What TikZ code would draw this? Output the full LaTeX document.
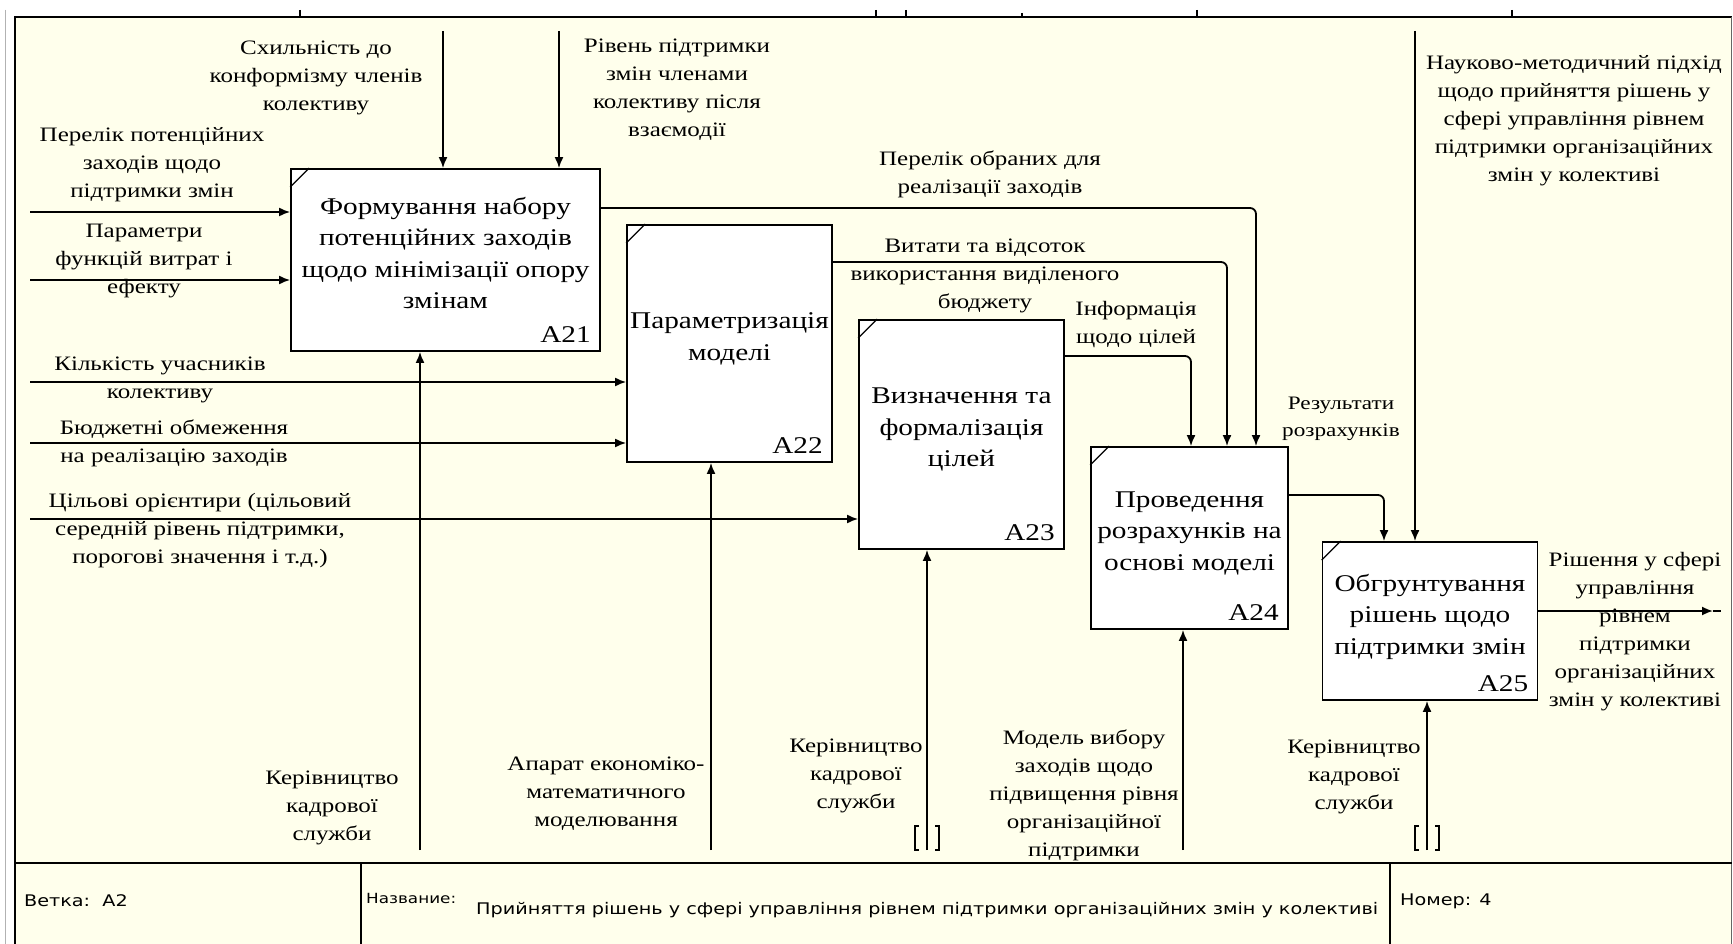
\documentclass[tikz,border=0pt]{standalone}
\usepackage{fontspec}
\setmainfont{Liberation Serif}
\newfontfamily\idefserif[FakeStretch=1.22]{Liberation Serif}
\newfontfamily\idefsans[FakeStretch=1.2]{DejaVu Sans}
\usetikzlibrary{arrows.meta,positioning}
\definecolor{paper}{RGB}{255,255,236}
\newcommand{\boxpad}{\rule[-14pt]{0pt}{14pt}}
\tikzstyle{activity} = [draw, fill=white, line width=1.8pt, align=center, inner sep=0pt, font=\fontsize{24}{31.5}\selectfont\idefserif]
\tikzstyle{arrowtext} = [align=center, inner sep=0pt, font=\fontsize{20.5}{28}\selectfont\idefserif]
\tikzstyle{boxnum} = [anchor=south east, inner sep=0pt, font=\fontsize{24}{24}\selectfont\idefserif]
\tikzstyle{flow} = [line width=1.8pt, ->]
\tikzstyle{footer} = [anchor=west, inner sep=0pt, font=\fontsize{16}{16}\selectfont\idefsans]

\begin{document}
\begin{tikzpicture}[x=1pt, y=-1pt, >={Latex[length=11pt,width=9pt]}]
\useasboundingbox (0,0) rectangle (1733,944);
% frame of the sheet
   \fill[white] (0,0) rectangle (1733,944);
   \draw[black!30, line width=1pt] (5,10) -- (5,944);
   \fill[paper] (15,17) rectangle (1731,950);
   \draw[line width=2pt] (1732,17) -- (15,17) -- (15,944);
   \draw[black!60, line width=1pt] (1731.5,17) -- (1731.5,944);
   \foreach \x in {300, 876, 906, 1197, 1512} \draw[line width=1.5pt] (\x,10) -- (\x,17);
   \draw[line width=1.5pt] (1022,13) -- (1022,17);
   \draw[line width=2pt] (15,863) -- (1732,863);
   \draw[line width=2pt] (361,863) -- (361,944) (1390,863) -- (1390,944);

   \node (Branch) at (24, 901) [footer] {Ветка:\ \ A2};
   \node (NameTag) at (366, 898) [footer, font=\fontsize{14}{14}\selectfont\idefsans] {Название:};
   \node (Title) at (476, 910) [footer] {Прийняття рішень у сфері управління рівнем підтримки організаційних змін у колективі};
   \node (Number) at (1400, 901) [footer] {Номер: 4};

% activities
   \node (Forming) at (445.5, 260) [activity, minimum width=309pt, minimum height=182pt] {Формування набору\\потенційних заходів\\щодо мінімізації опору\\змінам\boxpad};
   \node (Parametrization) at (729.5, 343.5) [activity, minimum width=205pt, minimum height=237pt] {Параметризація\\моделі\boxpad};
   \node (Goals) at (961.5, 434.5) [activity, minimum width=205pt, minimum height=229pt] {Визначення та\\формалізація\\цілей\boxpad};
   \node (Calculation) at (1189.5, 538) [activity, minimum width=197pt, minimum height=182pt] {Проведення\\розрахунків на\\основі моделі\boxpad};
   \node (Justification) at (1430, 621) [activity, minimum width=215pt, minimum height=158pt] {Обгрунтування\\рішень щодо\\підтримки змін\boxpad};

   \foreach \b in {Forming, Parametrization, Goals, Calculation, Justification}
      \draw[line width=1.2pt] ([shift={(0,19)}]\b.north west) -- ([shift={(19,0)}]\b.north west);

   \node (FormingNum) at ([shift={(-10,-9)}]Forming.south east) [boxnum] {A21};
   \node (ParametrizationNum) at ([shift={(-10,-9)}]Parametrization.south east) [boxnum] {A22};
   \node (GoalsNum) at ([shift={(-10,-9)}]Goals.south east) [boxnum] {A23};
   \node (CalculationNum) at ([shift={(-10,-9)}]Calculation.south east) [boxnum] {A24};
   \node (JustificationNum) at ([shift={(-10,-9)}]Justification.south east) [boxnum] {A25};

% free ends of the arrows
   \coordinate (ConformIn) at (443, 31);
   \coordinate (SupportIn) at (559, 31);
   \coordinate (MethodIn) at (1415, 31);
   \coordinate (ListIn) at (30, 212);
   \coordinate (CostIn) at (30, 280);
   \coordinate (CountIn) at (30, 382);
   \coordinate (BudgetIn) at (30, 443);
   \coordinate (TargetIn) at (30, 519);
   \coordinate (StaffOne) at (420, 850);
   \coordinate (Apparatus) at (711, 850);
   \coordinate (StaffTwo) at (927, 850);
   \coordinate (ModelIn) at (1183, 850);
   \coordinate (StaffThree) at (1427, 850);
   \coordinate (DecisionOut) at (1713, 611);
   \coordinate (ChosenTurn) at (1256, 208);
   \coordinate (CostsTurn) at (1227, 262);
   \coordinate (GoalsTurn) at (1191, 356);
   \coordinate (ResultsTurn) at (1384, 495);

% connectors
   \draw[flow] (ConformIn) -- (ConformIn |- Forming.north);
   \draw[flow] (SupportIn) -- (SupportIn |- Forming.north);
   \draw[flow] (MethodIn) -- (MethodIn |- Justification.north);
   \draw[flow] (ListIn) -- (ListIn -| Forming.west);
   \draw[flow] (CostIn) -- (CostIn -| Forming.west);
   \draw[flow] (CountIn) -- (CountIn -| Parametrization.west);
   \draw[flow] (BudgetIn) -- (BudgetIn -| Parametrization.west);
   \draw[flow] (TargetIn) -- (TargetIn -| Goals.west);
   \draw[flow] (StaffOne) -- (StaffOne |- Forming.south);
   \draw[flow] (Apparatus) -- (Apparatus |- Parametrization.south);
   \draw[flow] (StaffTwo) -- (StaffTwo |- Goals.south);
   \draw[flow] (ModelIn) -- (ModelIn |- Calculation.south);
   \draw[flow] (StaffThree) -- (StaffThree |- Justification.south);
   \draw[flow] (Justification.east |- DecisionOut) -- (DecisionOut);
   \draw[line width=1.8pt] (DecisionOut) -- ++(8,0);
   \draw[flow, rounded corners=6pt] (Forming.east |- ChosenTurn) -| (ChosenTurn |- Calculation.north);
   \draw[flow, rounded corners=6pt] (Parametrization.east |- CostsTurn) -| (CostsTurn |- Calculation.north);
   \draw[flow, rounded corners=6pt] (Goals.east |- GoalsTurn) -| (GoalsTurn |- Calculation.north);
   \draw[flow, rounded corners=6pt] (Calculation.east |- ResultsTurn) -| (ResultsTurn |- Justification.north);

   \foreach \t in {StaffTwo, StaffThree} {
      \draw[line width=1.5pt] ([shift={(-8,-24)}]\t) -- ++(-4,0) -- ++(0,24) -- ++(4,0);
      \draw[line width=1.5pt] ([shift={(8,-24)}]\t) -- ++(4,0) -- ++(0,24) -- ++(-4,0);
   }

% arrow labels
   \node (ConformText) at (316, 78) [arrowtext] {Схильність до\\конформізму членів\\колективу};
   \node (SupportText) at (677, 90) [arrowtext] {Рівень підтримки\\змін членами\\колективу після\\взаємодії};
   \node (ListText) at (152, 165) [arrowtext] {Перелік потенційних\\заходів щодо\\підтримки змін};
   \node (CostText) at (144, 261) [arrowtext] {Параметри\\функцій витрат і\\ефекту};
   \node (ChosenText) at (990, 174) [arrowtext] {Перелік обраних для\\реалізації заходів};
   \node (CostsText) at (985, 276) [arrowtext] {Витати та відсоток\\використання виділеного\\бюджету};
   \node (GoalsText) at (1136, 325) [arrowtext] {Інформація\\щодо цілей};
   \node (CountText) at (160, 380) [arrowtext] {Кількість учасників\\колективу};
   \node (BudgetText) at (174, 443) [arrowtext] {Бюджетні обмеження\\на реалізацію заходів};
   \node (TargetText) at (200, 531) [arrowtext] {Цільові орієнтири (цільовий\\середній рівень підтримки,\\порогові значення і т.д.)};
   \node (ResultsText) at (1341, 419) [arrowtext, font=\fontsize{19}{27}\selectfont\idefserif] {Результати\\розрахунків};
   \node (MethodText) at (1574, 121) [arrowtext] {Науково-методичний підхід\\щодо прийняття рішень у\\сфері управління рівнем\\підтримки організаційних\\змін у колективі};
   \node (DecisionText) at (1635, 632) [arrowtext] {Рішення у сфері\\управління\\рівнем\\підтримки\\організаційних\\змін у колективі};
   \node (StaffOneText) at (332, 808) [arrowtext] {Керівництво\\кадрової\\служби};
   \node (ApparatusText) at (606, 794) [arrowtext] {Апарат економіко-\\математичного\\моделювання};
   \node (StaffTwoText) at (856, 776) [arrowtext] {Керівництво\\кадрової\\служби};
   \node (ModelText) at (1084, 795) [arrowtext] {Модель вибору\\заходів щодо\\підвищення рівня\\організаційної\\підтримки};
   \node (StaffThreeText) at (1354, 777) [arrowtext] {Керівництво\\кадрової\\служби};

\end{tikzpicture}
\end{document}
